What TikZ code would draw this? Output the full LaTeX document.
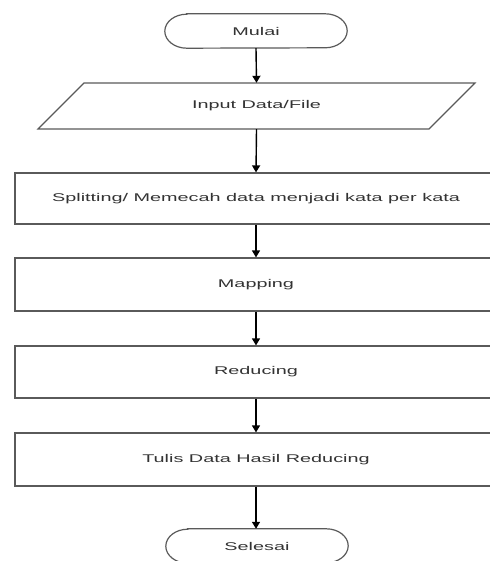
\documentclass[tikz,border=0pt]{standalone}
\usepackage{fontspec}
\setmainfont{Liberation Sans}
\usetikzlibrary{arrows.meta}
\definecolor{linegray}{HTML}{5A5A5A}
\definecolor{txtgray}{HTML}{333333}
\newcommand{\stretchtxt}[1]{\scalebox{1.77}[1]{#1}}
\tikzset{
  boxstyle/.style={draw=linegray, line width=1.2pt, minimum width=482pt, inner sep=0pt, fill=white},
  lbl/.style={font=\fontsize{11.2pt}{13pt}\selectfont, text=txtgray},
  conn/.style={draw=black, line width=1.4pt, -{Triangle[width=8pt,length=7pt]}},
  termshape/.style={draw=none, minimum width=182pt, minimum height=34pt, inner sep=0pt},
}
\begin{document}
\begin{tikzpicture}[x=1pt,y=-1pt]
\useasboundingbox[fill=white] (0,0) rectangle (489,561);
% start terminal
\node[termshape, lbl] (start) at (256,31) {\stretchtxt{Mulai}};
\draw[linegray, line width=1.2pt] ([xshift=22pt]start.north west) -- ([xshift=-22pt]start.north east)
  arc[start angle=90, end angle=-90, x radius=22pt, y radius=17pt]
  -- ([xshift=22pt]start.south west)
  arc[start angle=270, end angle=90, x radius=22pt, y radius=17pt] -- cycle;
% input parallelogram
\node[draw=none, minimum width=391pt, minimum height=46pt, inner sep=0pt, lbl] (inp) at (256.5,106) {\stretchtxt{Input Data/File}};
\draw[linegray, line width=1.2pt] (84,83) -- (475,83) -- (429,129) -- (38,129) -- cycle;
% process boxes
\node[boxstyle, minimum height=51pt, lbl] (split) at (256,198.5) {\stretchtxt{Splitting/ Memecah data menjadi kata per kata}};
\node[boxstyle, minimum height=53pt, lbl] (map) at (256,284.5) {\stretchtxt{Mapping}};
\node[boxstyle, minimum height=52pt, lbl] (red) at (256,372) {\stretchtxt{Reducing}};
\node[boxstyle, minimum height=53pt, lbl] (tulis) at (256,459.5) {\stretchtxt{Tulis Data Hasil Reducing}};
% end terminal
\node[termshape, lbl] (stop) at (257,546) {\stretchtxt{Selesai}};
\draw[linegray, line width=1.2pt] ([xshift=22pt]stop.north west) -- ([xshift=-22pt]stop.north east)
  arc[start angle=90, end angle=-90, x radius=22pt, y radius=17pt]
  -- ([xshift=22pt]stop.south west)
  arc[start angle=270, end angle=90, x radius=22pt, y radius=17pt] -- cycle;
% connectors
\draw[conn] (start.south) -- (inp.north);
\draw[conn] (inp.south) -- (split.north);
\draw[conn] (split.south) -- (map.north);
\draw[conn] (map.south) -- (red.north);
\draw[conn] (red.south) -- (tulis.north);
\draw[conn] (tulis.south) -- (tulis.south |- stop.north);
\end{tikzpicture}
\end{document}
